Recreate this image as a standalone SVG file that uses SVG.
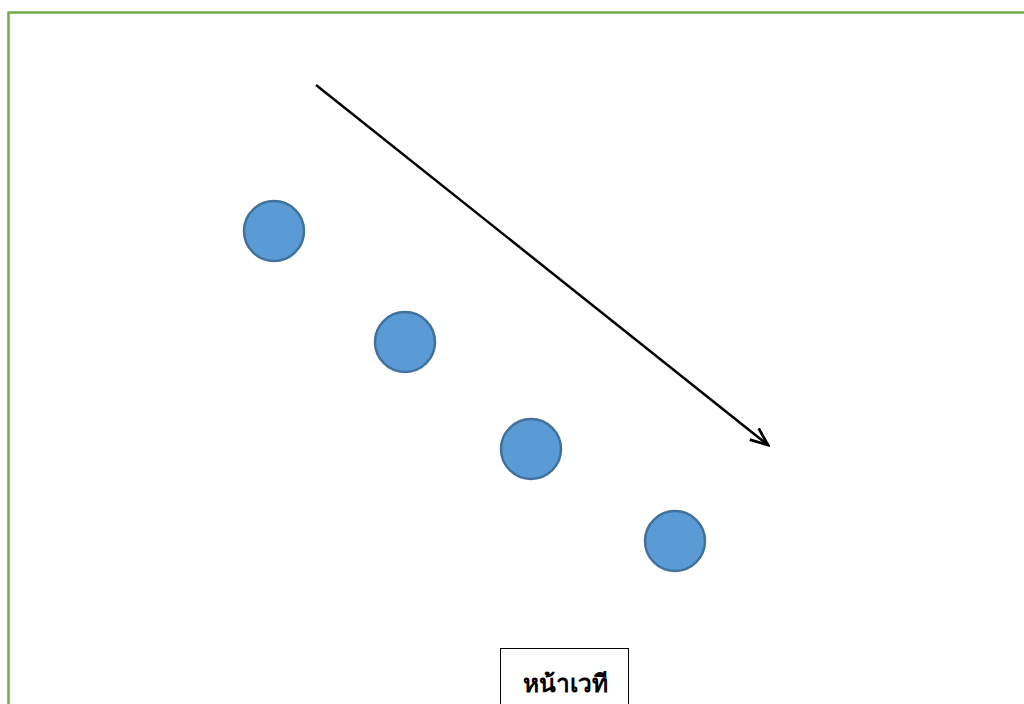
<svg xmlns="http://www.w3.org/2000/svg" width="1024" height="704" viewBox="0 0 1024 704">
<style>
.dot{fill:#5B9BD5;stroke:#41719C;stroke-width:2.5}
.lbl{font-family:"Noto Sans","DejaVu Sans",sans-serif;font-weight:bold;font-size:24.5px;fill:#000}
</style>
<defs>
<marker id="ah" viewBox="0 0 20 20" refX="18" refY="10" markerWidth="22" markerHeight="22" markerUnits="userSpaceOnUse" orient="auto">
<path d="M2,3.5 L18,10 L2,16.5" fill="none" stroke="#000" stroke-width="2.5"/>
</marker>
</defs>
<rect width="1024" height="704" fill="#fff"/>
<g id="frame">
<path d="M8.5,720 L8.5,12.5 L1040,12.5" fill="none" stroke="#70AD47" stroke-width="2.5"/>
</g>
<g id="connectors">
<line x1="316" y1="85" x2="768" y2="445" stroke="#000" stroke-width="2.5" marker-end="url(#ah)"/>
</g>
<g id="c1"><circle class="dot" cx="274" cy="231" r="30"/></g>
<g id="c2"><circle class="dot" cx="405" cy="342" r="30"/></g>
<g id="c3"><circle class="dot" cx="531" cy="449" r="30"/></g>
<g id="c4"><circle class="dot" cx="675" cy="541" r="30"/></g>
<g id="stage">
<rect x="500.5" y="648.5" width="128" height="70" fill="#fff" stroke="#000" stroke-width="1"/>
<text class="lbl" x="565" y="692" text-anchor="middle">หน้าเวที</text>
</g>
</svg>
